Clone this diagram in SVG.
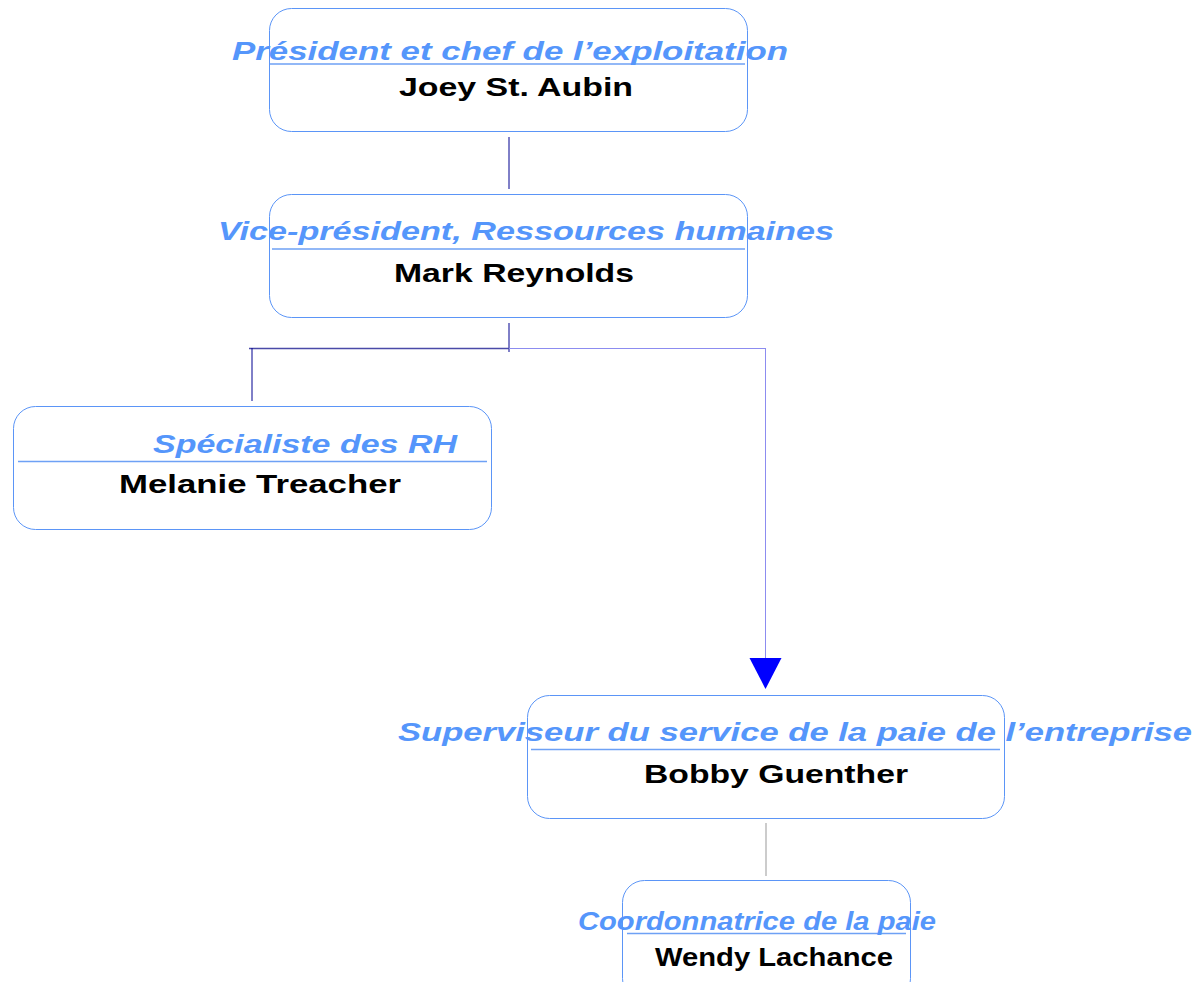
<svg xmlns="http://www.w3.org/2000/svg" width="1204" height="982" viewBox="0 0 1204 982">
<style>
.box{fill:#fff;stroke:#5b95f7;stroke-width:1}
.sep{stroke:#6ea1f5;stroke-width:1.3}
.t{font-family:"Liberation Sans",Arial,sans-serif;font-size:26px;font-weight:bold;font-style:italic;fill:#5596fb}
.n{font-family:"Liberation Sans",Arial,sans-serif;font-size:26px;font-weight:bold;fill:#000}
.dk{stroke:#000090;stroke-width:1;fill:none}
.lt{stroke:#8c8cf0;stroke-width:1;fill:none}
.arrow{fill:#0000ff}
</style>
<rect width="1204" height="982" fill="#fff"/>
<g id="connectors">
<line class="dk" x1="509" y1="137" x2="509" y2="189"/>
<line class="dk" x1="509" y1="323" x2="509" y2="352"/>
<line x1="249" y1="348.5" x2="509" y2="348.5" stroke="#4a4aa8" stroke-width="1.5"/>
<line class="lt" x1="509" y1="348.5" x2="765" y2="348.5"/>
<line class="dk" x1="252" y1="348" x2="252" y2="401"/>
<line class="lt" x1="765.5" y1="348" x2="765.5" y2="658"/>
<path class="arrow" d="M749.5,658 L781.5,658 L765.5,689 Z"/>
<line x1="766" y1="823" x2="766" y2="876" stroke="#999" stroke-width="1"/>
</g>
<g id="node1">
<rect class="box" x="269.5" y="8.5" width="478" height="123" rx="22"/>
<line class="sep" x1="270" y1="64" x2="745" y2="64"/>
<text class="t" x="232" y="60" textLength="556" lengthAdjust="spacingAndGlyphs">Président et chef de l’exploitation</text>
<text class="n" x="399" y="96" textLength="234" lengthAdjust="spacingAndGlyphs">Joey St. Aubin</text>
</g>
<g id="node2">
<rect class="box" x="269.5" y="194.5" width="478" height="123" rx="22"/>
<line class="sep" x1="272" y1="249" x2="745" y2="249"/>
<text class="t" x="218" y="240" textLength="616" lengthAdjust="spacingAndGlyphs">Vice-président, Ressources humaines</text>
<text class="n" x="394" y="282" textLength="240" lengthAdjust="spacingAndGlyphs">Mark Reynolds</text>
</g>
<g id="node3">
<rect class="box" x="13.5" y="406.5" width="478" height="123" rx="22"/>
<line class="sep" x1="18" y1="461.5" x2="487" y2="461.5"/>
<text class="t" x="153" y="453" textLength="304" lengthAdjust="spacingAndGlyphs">Spécialiste des RH</text>
<text class="n" x="119" y="493" textLength="282" lengthAdjust="spacingAndGlyphs">Melanie Treacher</text>
</g>
<g id="node4">
<rect class="box" x="527.5" y="695.5" width="477" height="123" rx="22"/>
<line class="sep" x1="531" y1="749.5" x2="1000" y2="749.5"/>
<text class="t" x="398" y="741" textLength="794" lengthAdjust="spacingAndGlyphs">Superviseur du service de la paie de l’entreprise</text>
<text class="n" x="644" y="783" textLength="264" lengthAdjust="spacingAndGlyphs">Bobby Guenther</text>
</g>
<g id="node5">
<rect class="box" x="622.5" y="880.5" width="288" height="120" rx="22"/>
<line class="sep" x1="627" y1="933.5" x2="906" y2="933.5"/>
<text class="t" x="578" y="930" textLength="358" lengthAdjust="spacingAndGlyphs">Coordonnatrice de la paie</text>
<text class="n" x="655" y="966" textLength="238" lengthAdjust="spacingAndGlyphs">Wendy Lachance</text>
</g>
</svg>
